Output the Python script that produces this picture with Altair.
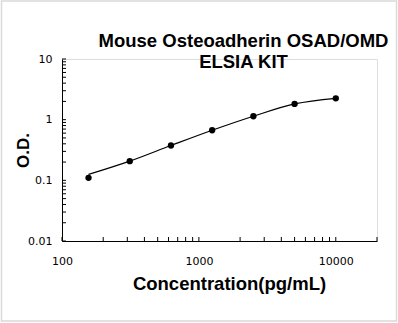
import altair as alt
import pandas as pd

# Standard curve: concentration (pg/mL) vs optical density
conc = [156.25, 312.5, 625, 1250, 2500, 5000, 10000]
od = [0.110, 0.207, 0.375, 0.67, 1.14, 1.82, 2.25]
fit_od = [0.125, 0.207, 0.375, 0.67, 1.14, 1.82, 2.25]

# Log-axis tick positions (major + minor)
x_ticks = [100, 200, 300, 400, 500, 600, 700, 800, 900,
           1000, 2000, 3000, 4000, 5000, 6000, 7000, 8000, 9000,
           10000, 20000]
y_ticks = [0.01, 0.02, 0.03, 0.04, 0.05, 0.06, 0.07, 0.08, 0.09,
           0.1, 0.2, 0.3, 0.4, 0.5, 0.6, 0.7, 0.8, 0.9,
           1, 2, 3, 4, 5, 6, 7, 8, 9, 10]
x_labels = [100, 1000, 10000]
y_labels = [0.01, 0.1, 1, 10]

W, H = 315, 182
xs = alt.Scale(type="log", domain=[100, 20000])
ys = alt.Scale(type="log", domain=[0.01, 10])

pts = pd.DataFrame({"conc": conc, "od": od})
fit = pd.DataFrame({"conc": conc, "od": fit_od})
xt = pd.DataFrame({"xv": x_ticks})
yt = pd.DataFrame({"yv": y_ticks})

label_font = "DejaVu Sans"
title_font = "Liberation Sans"

x_axis = alt.Axis(values=x_labels, format="~g", title="Concentration(pg/mL)",
                  ticks=False, tickSize=0, grid=False, labelPadding=14,
                  labelFlush=False,
                  labelFont=label_font, labelFontSize=11, labelColor="black",
                  domainColor="black", domainWidth=1,
                  titleFont=title_font, titleFontSize=18.5, titleFontWeight="bold",
                  titleColor="black", titleX=167, titleY=48,
                  titleBaseline="alphabetic")
y_axis = alt.Axis(values=y_labels, format="~g", title="O.D.",
                  ticks=False, tickSize=0, grid=False, labelPadding=10,
                  labelFont=label_font, labelFontSize=11, labelColor="black",
                  domainColor="black", domainWidth=1,
                  titleFont=title_font, titleFontSize=17, titleFontWeight="bold",
                  titleColor="black", titleX=-34, titleY=91,
                  titleBaseline="alphabetic")

# light grey border around the whole figure
frame = alt.Chart(pd.DataFrame({"a": [0]})).mark_rect(
    fill="transparent", stroke="#d9d9d9", strokeWidth=1.5
).encode(x=alt.value(-60.5), x2=alt.value(334.5), y=alt.value(-58), y2=alt.value(262))

line = alt.Chart(fit).mark_line(color="black", strokeWidth=1.2, interpolate="monotone").encode(
    x=alt.X("conc:Q", scale=xs, axis=x_axis),
    y=alt.Y("od:Q", scale=ys, axis=y_axis))
dots = alt.Chart(pts).mark_circle(color="black", opacity=1, size=40).encode(
    x=alt.X("conc:Q", scale=xs, axis=x_axis),
    y=alt.Y("od:Q", scale=ys, axis=y_axis))

# inward-pointing major/minor tick marks
xtick = alt.Chart(xt).mark_rule(color="black", strokeWidth=1).encode(
    x=alt.X("xv:Q", scale=xs, axis=x_axis),
    y=alt.value(H), y2=alt.value(H - 4))
ytick = alt.Chart(yt).mark_rule(color="black", strokeWidth=1).encode(
    y=alt.Y("yv:Q", scale=ys, axis=y_axis),
    x=alt.value(0), x2=alt.value(4))

chart = alt.layer(frame, line, dots, xtick, ytick).properties(
    width=W, height=H,
    autosize=alt.AutoSizeParams(type="none"),
    padding={"left": 62, "top": 59, "right": 21, "bottom": 82},
    title=alt.TitleParams(text=["Mouse Osteoadherin OSAD/OMD", "ELSIA KIT"],
                          font=title_font, fontSize=18.5, fontWeight="bold",
                          color="black", anchor="middle", dx=24, dy=71,
                          lineHeight=21, offset=0),
).configure_view(strokeWidth=0).configure(background="white")

chart.save("out.html", embed_options={"renderer": "svg", "actions": False})
